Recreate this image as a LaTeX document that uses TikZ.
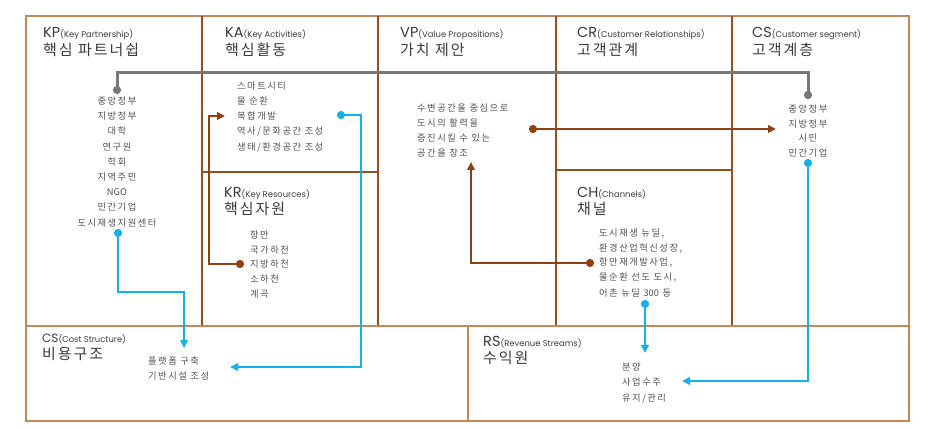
\documentclass[tikz,border=0pt]{standalone}
\usepackage{fontspec}
\setmainfont{Noto Sans CJK KR}
\newfontfamily\latinf{Poppins}
\newfontfamily\headf[LetterSpace=13]{Noto Sans CJK KR}
\newfontfamily\itemf[LetterSpace=16]{Noto Sans CJK KR}
\usetikzlibrary{arrows.meta,calc}
\definecolor{frameB}{HTML}{96501F}
\definecolor{frameL}{HTML}{C4875A}
\definecolor{conB}{HTML}{8F3F12}
\definecolor{conG}{HTML}{777777}
\definecolor{conC}{HTML}{14B0EC}
\definecolor{txt}{HTML}{3A3A3A}
\definecolor{itxt}{HTML}{505050}
\newcommand\smalltxt{\latinf\fontsize{8.4}{9}\selectfont}
\newcommand\captxt{\latinf\fontsize{14.5}{15}\selectfont}
\tikzset{
  bigt/.style={anchor=base west, inner sep=0pt, text=txt, font=\headf\fontsize{15}{15}\selectfont},
  item/.style={anchor=west, inner sep=0pt, text=itxt, font=\itemf\fontsize{9.3}{10}\selectfont},
  itemc/.style={item, anchor=center},
  framev/.style={draw=frameB, line width=2.2pt},
  frameo/.style={draw=frameL, line width=1.5pt},
  dot/.style={{Circle[length=8pt]}-{Triangle[length=8pt,width=7.5pt]}},
  conbrown/.style={draw=conB, line width=2.5pt, dot},
  conblue/.style={draw=conC, line width=2.6pt, dot},
  congray/.style={draw=conG, line width=3pt, {Circle[length=8pt]}-{Circle[length=8pt]}},
}
\begin{document}
\begin{tikzpicture}[x=1pt,y=-1pt]
\useasboundingbox (0,0) rectangle (943,430);
% frame
\draw[frameo] (26,16) rectangle (909,421);
\draw[framev] (202,16) -- (202,326);
\draw[framev] (378,16) -- (378,326);
\draw[framev] (556,16) -- (556,326);
\draw[framev] (732,16) -- (732,326);
\draw[framev] (202,172) -- (378,172);
\draw[framev] (556,170) -- (732,170);
\draw[frameo] (26,326) -- (909,326);
\draw[frameo] (468,326) -- (468,421);

% titles
\node[bigt] (tKP) at (43,38) {{\captxt KP}{\smalltxt(Key Partnership)}};
\node[bigt] (hKP) at (43,56) {핵심 파트너쉽};
\node[bigt] (tKA) at (225,38) {{\captxt KA}{\smalltxt(Key Activities)}};
\node[bigt] (hKA) at (225,56) {핵심활동};
\node[bigt] (tVP) at (400,38) {{\captxt VP}{\smalltxt(Value Propositions)}};
\node[bigt] (hVP) at (400,56) {가치 제안};
\node[bigt] (tCR) at (577,38) {{\captxt CR}{\smalltxt(Customer Relationships)}};
\node[bigt] (hCR) at (577,56) {고객관계};
\node[bigt] (tCS) at (752,38) {{\captxt CS}{\smalltxt(Customer segment)}};
\node[bigt] (hCS) at (752,56) {고객계층};
\node[bigt] (tKR) at (224,198) {{\captxt KR}{\smalltxt(Key Resources)}};
\node[bigt] (hKR) at (224,215) {핵심자원};
\node[bigt] (tCH) at (577,198) {{\captxt CH}{\smalltxt(Channels)}};
\node[bigt] (hCH) at (577,215) {채널};
\node[bigt] (tCO) at (42,343) {{\latinf\fontsize{12}{12}\selectfont CS}{\smalltxt(Cost Structure)}};
\node[bigt] (hCO) at (42,360) {비용구조};
\node[bigt] (tRS) at (483,347) {{\captxt RS}{\smalltxt(Revenue Streams)}};
\node[bigt] (hRS) at (483,364) {수익원};

% KP list
\node[itemc] (kp1) at (117,101) {중앙정부};
\node[itemc] (kp2) at (117,116) {지방정부};
\node[itemc] (kp3) at (117,131) {대학};
\node[itemc] (kp4) at (117,147) {연구원};
\node[itemc] (kp5) at (117,162) {학회};
\node[itemc] (kp6) at (117,177) {지역주민};
\node[itemc] (kp7) at (117,192) {{\rmfamily NGO}};
\node[itemc] (kp8) at (117,207) {민간기업};
\node[itemc] (kp9) at (117,223) {도시재생지원센터};
% KA list
\node[item] (ka1) at (237,86) {스마트시티};
\node[item] (ka2) at (237,101) {물 순환};
\node[item] (ka3) at (237,116) {복합개발};
\node[item] (ka4) at (237,131) {역사/문화공간 조성};
\node[item] (ka5) at (237,147) {생태/환경공간 조성};
% KR list
\node[item] (kr1) at (250,235) {항만};
\node[item] (kr2) at (250,250) {국가하천};
\node[item] (kr3) at (250,264) {지방하천};
\node[item] (kr4) at (250,279) {소하천};
\node[item] (kr5) at (250,294) {계곡};
% VP list
\node[item] (vp1) at (417,108) {수변공간을 중심으로};
\node[item] (vp2) at (417,123) {도시의 활력을};
\node[item] (vp3) at (417,138) {증진시킬 수 있는};
\node[item] (vp4) at (417,153) {공간을 창조};
% CS list
\node[itemc] (cs1) at (808,109) {중앙정부};
\node[itemc] (cs2) at (808,124) {지방정부};
\node[itemc] (cs3) at (808,138) {시민};
\node[itemc] (cs4) at (808,153) {민간기업};
% CH list
\node[item] (ch1) at (599,234) {도시재생 뉴딜,};
\node[item] (ch2) at (599,249) {환경산업혁신성장,};
\node[item] (ch3) at (599,263) {항만재개발사업,};
\node[item] (ch4) at (599,278) {물순환 선도 도시,};
\node[item] (ch5) at (599,293) {어촌 뉴딜 {\rmfamily 300} 등};
% Cost list
\node[item] (co1) at (148,361) {플랫폼 구축};
\node[item] (co2) at (148,376) {기반시설 조성};
% RS list
\node[item] (rs1) at (622,367) {분양};
\node[item] (rs2) at (622,382) {사업수주};
\node[item] (rs3) at (622,398) {유지/관리};

% connector end points
\coordinate (gS) at (117,94);
\coordinate (gE) at (808,99);
\coordinate (bS) at (244,264);
\coordinate (bM) at (209,116);
\coordinate (bE) at (225,116);
\coordinate (c1S) at (337,115);
\coordinate (c1M) at (361,115);
\coordinate (c1E) at (230,367);
\coordinate (c2S) at (118,229);
\coordinate (c2M) at (184,292);
\coordinate (c2E) at (184,348);
\coordinate (vS) at (529,129);
\coordinate (vE) at (776,129);
\coordinate (hS) at (594,263);
\coordinate (hE) at (471,162);
\coordinate (c3S) at (645,300);
\coordinate (c3E) at (645,353);
\coordinate (c4S) at (808,159);
\coordinate (c4E) at (682,381);

% connectors
\draw[congray] (gS) -- (gS |- 0,73) -- (gE |- 0,73) -- (gE);
\draw[conbrown] (bS) -| (bM) -- (bE);
\draw[conblue] (c1S) -- (c1M) |- (c1E);
\draw[conblue] (c2S) |- (c2M) -- (c2E);
\draw[conbrown] (vS) -- (vE);
\draw[conbrown] (hS) -| (hE);
\draw[conblue] (c3S) -- (c3E);
\draw[conblue] (c4S) |- (c4E);
\end{tikzpicture}
\end{document}
